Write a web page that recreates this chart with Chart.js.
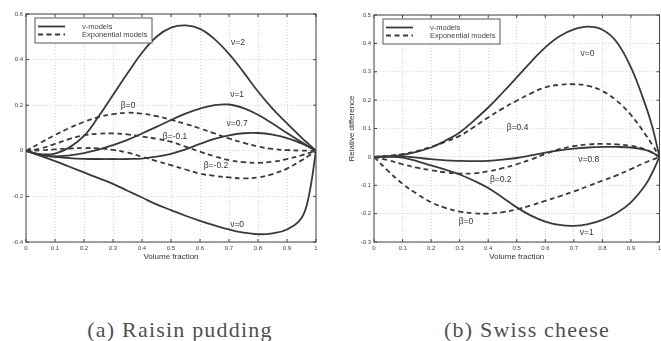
<!DOCTYPE html>
<html>
<head>
<meta charset="utf-8">
<script src="https://cdn.jsdelivr.net/npm/chart.js@4.4.1/dist/chart.umd.min.js"></script>
<style>
  body { margin: 0; width: 661px; height: 341px; overflow: hidden; background: #fff; position: relative; }
  canvas { position: absolute; top: 0; }
  #chartA { left: 0; }
  #chartB { left: 330px; }
  .cap { position: absolute; top: 319px; font-family: "Liberation Serif"; font-size: 22px; line-height: 22px; letter-spacing: 1.2px; color: #505050; white-space: nowrap; transform: translateX(-50%); }
</style>
</head>
<body>
<canvas id="chartA" width="330" height="272"></canvas>
<canvas id="chartB" width="340" height="272"></canvas>
<div class="cap" style="left:180px">(a) Raisin pudding</div>
<div class="cap" style="left:527px">(b) Swiss cheese</div>
<script>
// volume fraction samples
const xs = [0, 0.05, 0.1, 0.15, 0.2, 0.25, 0.3, 0.35, 0.4, 0.45, 0.5, 0.55, 0.6, 0.65, 0.7, 0.75, 0.8, 0.85, 0.9, 0.95, 0.975, 1];
const xTicks = [0, 0.1, 0.2, 0.3, 0.4, 0.5, 0.6, 0.7, 0.8, 0.9, 1];
const yTicksA = [-0.4, -0.2, 0, 0.2, 0.4, 0.6];
const yTicksB = [-0.3, -0.2, -0.1, 0, 0.1, 0.2, 0.3, 0.4, 0.5];

// (a) Raisin pudding
const aNu2 = [0, -0.015, -0.012, 0.015, 0.065, 0.15, 0.245, 0.34, 0.43, 0.5, 0.54, 0.55, 0.535, 0.49, 0.425, 0.345, 0.26, 0.185, 0.12, 0.058, 0.029, 0];
const aNu1 = [0, -0.018, -0.025, -0.02, -0.01, 0.005, 0.025, 0.048, 0.076, 0.105, 0.135, 0.163, 0.185, 0.2, 0.203, 0.187, 0.158, 0.12, 0.078, 0.038, 0.019, 0];
const aNu07 = [0, -0.018, -0.026, -0.032, -0.035, -0.036, -0.036, -0.036, -0.034, -0.026, -0.013, 0.006, 0.03, 0.052, 0.068, 0.077, 0.078, 0.071, 0.056, 0.032, 0.017, 0];
const aNu0 = [0, -0.022, -0.045, -0.07, -0.095, -0.12, -0.145, -0.175, -0.205, -0.235, -0.26, -0.285, -0.307, -0.327, -0.345, -0.359, -0.366, -0.362, -0.345, -0.295, -0.2, 0];
const aBeta0 = [0, 0.035, 0.069, 0.1, 0.127, 0.148, 0.161, 0.167, 0.163, 0.152, 0.136, 0.118, 0.098, 0.076, 0.054, 0.035, 0.019, 0.008, 0.003, 0.001, 0, 0];
const aBetaM01 = [0, 0.01, 0.03, 0.052, 0.068, 0.075, 0.076, 0.072, 0.063, 0.053, 0.04, 0.018, -0.004, -0.024, -0.041, -0.05, -0.053, -0.048, -0.036, -0.02, -0.01, 0];
const aBetaM02 = [0, 0.002, 0.006, 0.01, 0.012, 0.011, 0.004, -0.008, -0.026, -0.045, -0.063, -0.082, -0.1, -0.11, -0.117, -0.121, -0.117, -0.102, -0.078, -0.042, -0.022, 0];
const aLabels = [['ν=2', 0.731, 0.473], ['ν=1', 0.728, 0.245], ['ν=0.7', 0.728, 0.117], ['ν=0', 0.728, -0.322],
                 ['β=0', 0.352, 0.196], ['β=-0.1', 0.514, 0.06], ['β=-0.2', 0.655, -0.063]];

// (b) Swiss cheese
const bNu0 = [0, 0.002, 0.007, 0.018, 0.033, 0.057, 0.086, 0.128, 0.174, 0.226, 0.28, 0.335, 0.386, 0.425, 0.449, 0.459, 0.448, 0.405, 0.315, 0.185, 0.105, 0];
const bBeta04 = [0, 0.004, 0.01, 0.02, 0.035, 0.053, 0.074, 0.105, 0.139, 0.17, 0.198, 0.224, 0.245, 0.254, 0.256, 0.25, 0.232, 0.198, 0.148, 0.08, 0.042, 0];
const bNu08 = [0, 0.002, 0.002, -0.003, -0.008, -0.012, -0.014, -0.015, -0.014, -0.01, -0.004, 0.005, 0.015, 0.023, 0.029, 0.033, 0.035, 0.035, 0.033, 0.025, 0.015, 0];
const bBeta02 = [0, -0.012, -0.026, -0.038, -0.047, -0.055, -0.059, -0.058, -0.051, -0.04, -0.026, -0.009, 0.01, 0.027, 0.038, 0.044, 0.046, 0.044, 0.039, 0.027, 0.015, 0];
const bBeta0 = [0, -0.05, -0.095, -0.13, -0.16, -0.18, -0.193, -0.199, -0.2, -0.195, -0.185, -0.171, -0.155, -0.139, -0.122, -0.103, -0.084, -0.065, -0.043, -0.02, -0.01, 0];
const bNu1 = [0, 0, -0.003, -0.015, -0.03, -0.045, -0.062, -0.084, -0.11, -0.143, -0.178, -0.207, -0.228, -0.24, -0.243, -0.237, -0.222, -0.198, -0.16, -0.1, -0.055, 0];
const bLabels = [['ν=0', 0.748, 0.364], ['β=0.4', 0.503, 0.102], ['ν=0.8', 0.752, -0.011],
                 ['β=0.2', 0.444, -0.081], ['β=0', 0.322, -0.229], ['ν=1', 0.745, -0.268]];

const ink = '#3a3a3a';
const sansFont = 'Liberation Sans';

let serie = (arr, dashed) => ({
    data: xs.map((x, i) => ({x: x, y: arr[i]})),
    borderColor: ink,
    borderWidth: 1.8,
    borderDash: dashed ? [5, 3.5] : [],
    pointRadius: 0,
    tension: 0.4,
    fill: false
});

// matlab-like box, inward ticks, curve labels and legend
let matlabBox = (labels) => ({
    id: 'matlabBox',
    afterDatasetsDraw(chart) {
        const ctx = chart.ctx;
        const a = chart.chartArea;
        const sx = chart.scales.x, sy = chart.scales.y;
        ctx.save();
        ctx.strokeStyle = '#444';
        ctx.lineWidth = 1;
        ctx.setLineDash([]);
        ctx.strokeRect(a.left, a.top, a.right - a.left, a.bottom - a.top);
        ctx.beginPath();
        sx.ticks.forEach(t => {
            const p = sx.getPixelForValue(t.value);
            ctx.moveTo(p, a.bottom); ctx.lineTo(p, a.bottom - 3);
            ctx.moveTo(p, a.top); ctx.lineTo(p, a.top + 3);
        });
        sy.ticks.forEach(t => {
            const p = sy.getPixelForValue(t.value);
            ctx.moveTo(a.left, p); ctx.lineTo(a.left + 3, p);
            ctx.moveTo(a.right, p); ctx.lineTo(a.right - 3, p);
        });
        ctx.stroke();

        ctx.fillStyle = '#333';
        ctx.font = '8.5px "' + sansFont + '"';
        ctx.textAlign = 'center';
        ctx.textBaseline = 'middle';
        labels.forEach(l => ctx.fillText(l[0], sx.getPixelForValue(l[1]), sy.getPixelForValue(l[2])));

        // legend
        const lx = a.left + 9, ly = a.top + 4;
        ctx.fillStyle = '#fff';
        ctx.fillRect(lx, ly, 117, 25);
        ctx.strokeStyle = '#555';
        ctx.strokeRect(lx, ly, 117, 25);
        ctx.strokeStyle = ink;
        ctx.lineWidth = 1.8;
        ctx.beginPath(); ctx.moveTo(lx + 3, ly + 8.5); ctx.lineTo(lx + 30, ly + 8.5); ctx.stroke();
        ctx.setLineDash([5, 3.5]);
        ctx.beginPath(); ctx.moveTo(lx + 3, ly + 16.5); ctx.lineTo(lx + 30, ly + 16.5); ctx.stroke();
        ctx.setLineDash([]);
        ctx.fillStyle = '#444';
        ctx.font = '7.5px "' + sansFont + '"';
        ctx.textAlign = 'left';
        ctx.fillText('ν-models', lx + 47, ly + 8.5);
        ctx.fillText('Exponential models', lx + 47, ly + 16.5);
        ctx.restore();
    }
});

let dibujar = (id, datasets, yTicks, labels, yTitle, yWidth, padding) => {
    const ctx = document.getElementById(id).getContext('2d');
    return new Chart(ctx, {
        type: 'line',
        data: {datasets: datasets},
        plugins: [matlabBox(labels)],
        options: {
            responsive: false,
            animation: false,
            devicePixelRatio: 1,
            layout: {padding: padding},
            plugins: {legend: {display: false}, tooltip: {enabled: false}},
            scales: {
                x: {
                    type: 'linear', min: 0, max: 1,
                    afterBuildTicks: s => { s.ticks = xTicks.map(v => ({value: v})); },
                    afterFit: s => { s.height = 30; },
                    grid: {color: '#c4c4c4', lineWidth: 0.7, drawTicks: false},
                    border: {display: false, dash: [1, 2]},
                    ticks: {padding: 3, color: '#444', font: {family: sansFont, size: 6}, maxRotation: 0, autoSkip: false, callback: v => String(v)},
                    title: {display: true, text: 'Volume fraction', color: '#333', font: {family: sansFont, size: 8}, padding: {top: 0, bottom: 10}}
                },
                y: {
                    type: 'linear', min: yTicks[0], max: yTicks[yTicks.length - 1],
                    afterBuildTicks: s => { s.ticks = yTicks.map(v => ({value: v})); },
                    afterFit: s => { s.width = yWidth; },
                    grid: {color: '#c4c4c4', lineWidth: 0.7, drawTicks: false},
                    border: {display: false, dash: [1, 2]},
                    ticks: {padding: 3, color: '#444', font: {family: sansFont, size: 6}, autoSkip: false, callback: v => String(v)},
                    title: {display: !!yTitle, text: yTitle, color: '#333', font: {family: sansFont, size: 8}, padding: {top: 17, bottom: 0}}
                }
            }
        }
    });
};

dibujar('chartA',
    [serie(aNu2), serie(aNu1), serie(aNu07), serie(aNu0), serie(aBeta0, true), serie(aBetaM01, true), serie(aBetaM02, true)],
    yTicksA, aLabels, '', 26, {top: 14, right: 14, left: 0, bottom: 0});

dibujar('chartB',
    [serie(bNu0), serie(bNu08), serie(bNu1), serie(bBeta04, true), serie(bBeta02, true), serie(bBeta0, true)],
    yTicksB, bLabels, 'Relative difference', 44, {top: 15, right: 10.5, left: 0, bottom: 0});
</script>
</body>
</html>
